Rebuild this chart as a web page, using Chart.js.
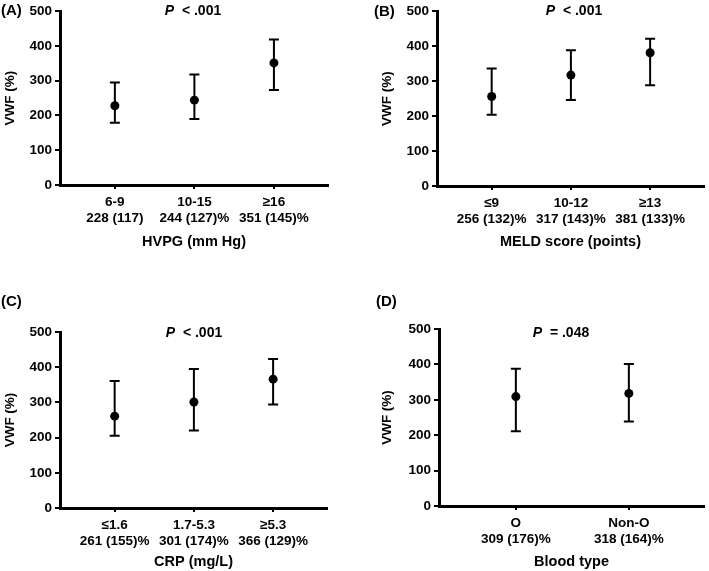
<!DOCTYPE html>
<html>
<head>
<meta charset="utf-8">
<script src="https://cdn.jsdelivr.net/npm/chart.js@4.4.1/dist/chart.umd.min.js"></script>
<style>
body{margin:0;background:#fff;width:709px;height:571px;position:relative;overflow:hidden;font-family:"Liberation Sans",Arial,sans-serif;}
canvas{position:absolute}
.lbl{position:absolute;font-weight:bold;color:#000;white-space:nowrap;line-height:1;}
.tag{font-size:15px}
.pv{font-size:14px;transform:translateX(-50%)}
</style>
</head>
<body>
<canvas id="chartA"></canvas>
<canvas id="chartB"></canvas>
<canvas id="chartC"></canvas>
<canvas id="chartD"></canvas>

<div class="lbl tag" style="left:1px;top:2px">(A)</div>
<div class="lbl tag" style="left:374px;top:3px">(B)</div>
<div class="lbl tag" style="left:1px;top:293px">(C)</div>
<div class="lbl tag" style="left:376px;top:293px">(D)</div>
<div class="lbl pv" style="left:193px;top:3px"><i>P</i>&nbsp; &lt; .001</div>
<div class="lbl pv" style="left:574px;top:3px"><i>P</i>&nbsp; &lt; .001</div>
<div class="lbl pv" style="left:194px;top:325px"><i>P</i>&nbsp; &lt; .001</div>
<div class="lbl pv" style="left:561px;top:325px"><i>P</i>&nbsp; = .048</div>

<script>
// panel A - HVPG
const hvpgCats = ['6-9', '10-15', '≥16'];
const hvpgStats = ['228 (117)', '244 (127)%', '351 (145)%'];
const hvpgMedian = [228, 244, 351];
const hvpgLow = [179, 190, 273];
const hvpgHigh = [295, 318, 418];

// panel B - MELD
const meldCats = ['≤9', '10-12', '≥13'];
const meldStats = ['256 (132)%', '317 (143)%', '381 (133)%'];
const meldMedian = [256, 317, 381];
const meldLow = [204, 246, 288];
const meldHigh = [336, 388, 421];

// panel C - CRP
const crpCats = ['≤1.6', '1.7-5.3', '≥5.3'];
const crpStats = ['261 (155)%', '301 (174)%', '366 (129)%'];
const crpMedian = [261, 301, 366];
const crpLow = [205, 220, 294];
const crpHigh = [361, 395, 423];

// panel D - blood type
const bloodCats = ['O', 'Non-O'];
const bloodStats = ['309 (176)%', '318 (164)%'];
const bloodMedian = [309, 318];
const bloodLow = [211, 239];
const bloodHigh = [388, 401];

const yTicks = [0, 100, 200, 300, 400, 500];

const FONT = '"Liberation Sans", Arial, sans-serif';

function makeErrorBars(low, high){
    return {
        id: 'errorBars',
        beforeDatasetsDraw(chart){
            const {ctx, scales: {x, y}} = chart;
            ctx.save();
            ctx.strokeStyle = '#000';
            ctx.lineWidth = 2;
            low.forEach((lo, i) => {
                const px = x.getPixelForValue(i);
                const y1 = y.getPixelForValue(lo), y2 = y.getPixelForValue(high[i]);
                ctx.beginPath();
                ctx.moveTo(px, y1); ctx.lineTo(px, y2);
                ctx.moveTo(px - 5, y1); ctx.lineTo(px + 5, y1);
                ctx.moveTo(px - 5, y2); ctx.lineTo(px + 5, y2);
                ctx.stroke();
            });
            ctx.restore();
        }
    };
}

function makeChart(cfg){
    const c = document.getElementById(cfg.id);
    c.style.left = cfg.left + 'px';
    c.style.top = cfg.top + 'px';
    c.width = cfg.w; c.height = cfg.h;
    const a = cfg.area; // left, top, right, bottom inside the canvas
    const padLeft = cfg.yTitleX - 13.5 * 1.2 / 2;
    const scaleBottom = cfg.xTitleY + 14 * 1.2 / 2;
    new Chart(c, {
        type: 'scatter',
        data: {
            datasets: [{
                data: cfg.median.map((v, i) => ({x: i, y: v})),
                pointRadius: 4.5, pointBackgroundColor: '#000', pointBorderColor: '#000', pointBorderWidth: 0
            }]
        },
        options: {
            responsive: false, animation: false,
            layout: {padding: {left: padLeft, top: a[1], right: cfg.w - a[2], bottom: cfg.h - scaleBottom}},
            plugins: {legend: {display: false}, tooltip: {enabled: false}},
            scales: {
                x: {
                    type: 'linear', min: cfg.xMin, max: cfg.xMax,
                    afterBuildTicks: s => { s.ticks = cfg.cats.map((_, i) => ({value: i})); },
                    afterFit: s => { s.height = scaleBottom - a[3]; },
                    ticks: {color: '#000', font: {family: FONT, size: 13.5, weight: 'bold', lineHeight: 1.2}, padding: 5, maxRotation: 0, autoSkip: false,
                        callback: v => [cfg.cats[v], cfg.stats[v]]},
                    grid: {display: true, drawOnChartArea: false, drawTicks: true, tickLength: 4, color: '#000', lineWidth: 2},
                    border: {display: true, color: '#000', width: 3},
                    title: {display: true, text: cfg.xTitle, color: '#000', font: {family: FONT, size: 14.5, weight: 'bold'}, padding: {top: 0, bottom: 0}}
                },
                y: {
                    min: 0, max: 500,
                    afterBuildTicks: s => { s.ticks = yTicks.map(v => ({value: v})); },
                    afterFit: s => { s.width = a[0] - padLeft; },
                    ticks: {color: '#000', font: {family: FONT, size: 13.5, weight: 'bold'}, padding: 3},
                    grid: {display: true, drawOnChartArea: false, drawTicks: true, tickLength: 5, color: '#000', lineWidth: 2},
                    border: {display: true, color: '#000', width: 3},
                    title: {display: true, text: 'VWF (%)', color: '#000', font: {family: FONT, size: 13.5, weight: 'bold'}, padding: {top: 0, bottom: 0}}
                }
            }
        },
        plugins: [makeErrorBars(cfg.low, cfg.high)]
    });
}

makeChart({id: 'chartA', left: 0, top: 0, w: 354, h: 285, area: [60, 9, 328, 185], yTitleX: 10, xTitleY: 242,
    xMin: -0.69, xMax: 2.68, cats: hvpgCats, stats: hvpgStats, median: hvpgMedian, low: hvpgLow, high: hvpgHigh, xTitle: 'HVPG (mm Hg)'});
makeChart({id: 'chartB', left: 354, top: 0, w: 355, h: 285, area: [83, 10, 350, 186], yTitleX: 33, xTitleY: 242,
    xMin: -0.69, xMax: 2.68, cats: meldCats, stats: meldStats, median: meldMedian, low: meldLow, high: meldHigh, xTitle: 'MELD score (points)'});
makeChart({id: 'chartC', left: 0, top: 285, w: 354, h: 286, area: [60, 47, 327, 223], yTitleX: 10, xTitleY: 277,
    xMin: -0.69, xMax: 2.68, cats: crpCats, stats: crpStats, median: crpMedian, low: crpLow, high: crpHigh, xTitle: 'CRP (mg/L)'});
makeChart({id: 'chartD', left: 354, top: 285, w: 355, h: 286, area: [85, 44, 350, 221], yTitleX: 33, xTitleY: 277,
    xMin: -0.68, xMax: 1.665, cats: bloodCats, stats: bloodStats, median: bloodMedian, low: bloodLow, high: bloodHigh, xTitle: 'Blood type'});
</script>
</body>
</html>
